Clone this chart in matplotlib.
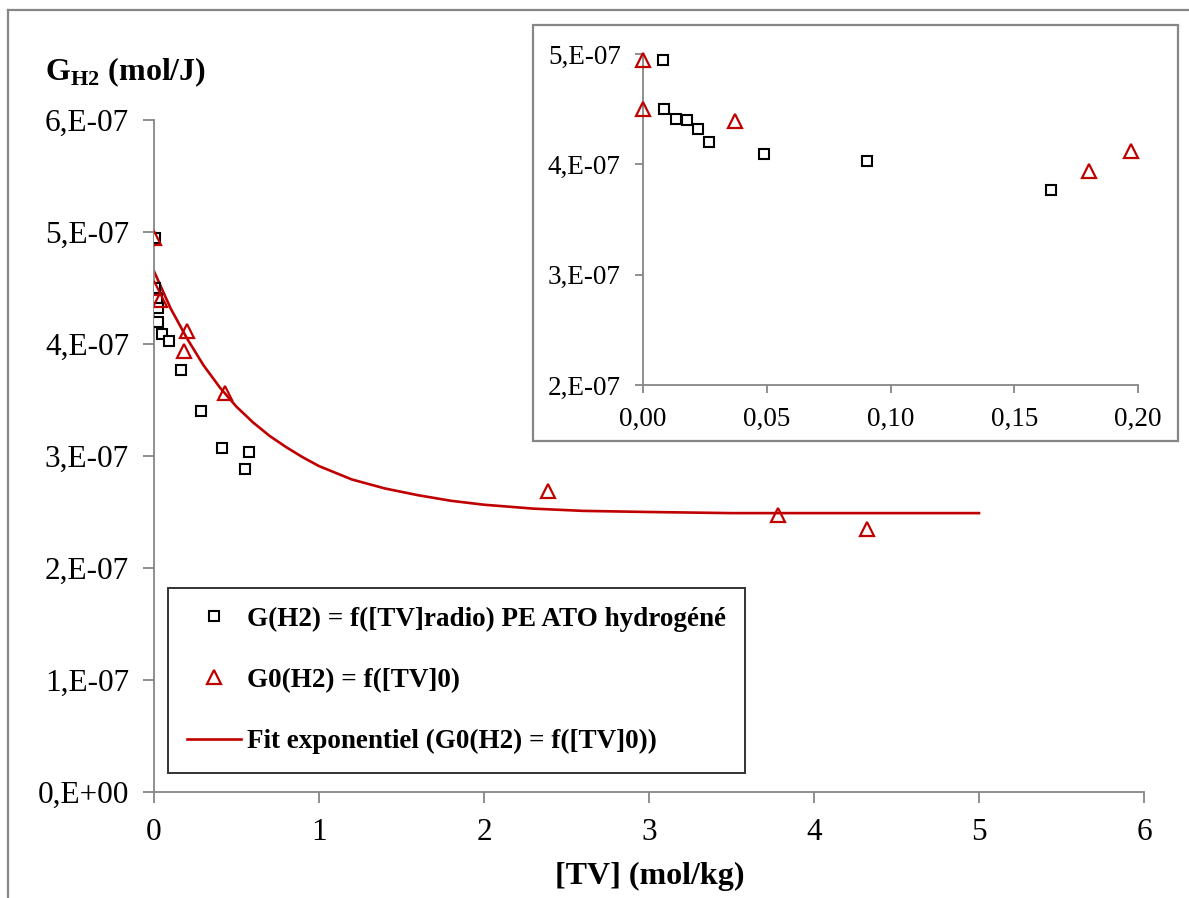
"""
G(H2) versus [TV] with an inset zoom on low [TV]
"""
import matplotlib
matplotlib.use("Agg")
import matplotlib.pyplot as plt
from matplotlib.lines import Line2D
from matplotlib.patches import Rectangle
from matplotlib.ticker import FuncFormatter, FixedLocator

# G(H2) = f([TV]radio), PE ATO hydrogene  (x in mol/kg, y in mol/J)
tv_radio = [0.0082, 0.0085, 0.0133, 0.0177, 0.0222, 0.0268, 0.0488, 0.0904,
            0.165, 0.285, 0.41, 0.552, 0.574]
g_radio = [4.95e-7, 4.50e-7, 4.41e-7, 4.40e-7, 4.32e-7, 4.20e-7, 4.09e-7,
           4.03e-7, 3.77e-7, 3.40e-7, 3.07e-7, 2.88e-7, 3.04e-7]

# G0(H2) = f([TV]0)
tv_0 = [0.0, 0.0, 0.0373, 0.180, 0.197, 0.43, 2.39, 3.78, 4.32]
g_0 = [4.95e-7, 4.50e-7, 4.39e-7, 3.94e-7, 4.12e-7, 3.56e-7, 2.69e-7,
       2.47e-7, 2.35e-7]

# exponential fit
fit_x = [0.0, 0.1, 0.2, 0.3, 0.4, 0.5, 0.6, 0.7, 0.8, 0.9, 1.0, 1.2, 1.4,
         1.6, 1.8, 2.0, 2.3, 2.6, 3.0, 3.5, 4.0, 4.5, 5.0]
fit_y = [4.65e-7, 4.32e-7, 4.05e-7, 3.81e-7, 3.61e-7, 3.44e-7, 3.30e-7,
         3.18e-7, 3.08e-7, 2.99e-7, 2.91e-7, 2.79e-7, 2.71e-7, 2.65e-7,
         2.60e-7, 2.565e-7, 2.53e-7, 2.51e-7, 2.50e-7, 2.49e-7, 2.49e-7,
         2.49e-7, 2.49e-7]

main_xticks = [0, 1, 2, 3, 4, 5, 6]
main_yticks = [0, 1e-7, 2e-7, 3e-7, 4e-7, 5e-7, 6e-7]
inset_xticks = [0.0, 0.05, 0.10, 0.15, 0.20]
inset_yticks = [2e-7, 3e-7, 4e-7, 5e-7]

RED = "#C00000"
GREY = "#868686"

plt.rcParams["font.family"] = ["Liberation Serif", "DejaVu Serif"]
plt.rcParams["mathtext.fontset"] = "custom"
plt.rcParams["mathtext.rm"] = "Liberation Serif"
plt.rcParams["mathtext.bf"] = "Liberation Serif:bold"


def sci_fmt(v, pos):
    if v == 0:
        return "0,E+00"
    return f"{v / 1e-7:.0f},E-07"


def comma_fmt(v, pos):
    return f"{v:.2f}".replace(".", ",")


def style_axes(ax, size, ticklen):
    for s in ["top", "right"]:
        ax.spines[s].set_visible(False)
    for s in ["left", "bottom"]:
        ax.spines[s].set_color(GREY)
        ax.spines[s].set_linewidth(1.3)
    ax.tick_params(direction="out", length=ticklen, width=1.3, color=GREY,
                   labelsize=size, labelcolor="black")
    ax.yaxis.set_major_formatter(FuncFormatter(sci_fmt))


W, H = 1189, 898
fig = plt.figure(figsize=(W / 100, H / 100), dpi=100)

# outer chart border (left and top edges visible)
fig.add_artist(Line2D([8 / W, 8 / W], [0, 1 - 10 / H], transform=fig.transFigure,
                      color=GREY, lw=1.6))
fig.add_artist(Line2D([8 / W, 1], [1 - 10 / H, 1 - 10 / H],
                      transform=fig.transFigure, color=GREY, lw=1.6))

# main axes
ax = fig.add_axes([154 / W, 106 / H, 990 / W, 672 / H])
ax.plot(tv_radio, g_radio, ls="none", marker="s", ms=7.5, mfc="white",
        mec="black", mew=1.5,
        label="G(H2) = f([TV]radio) PE ATO hydrogéné", zorder=3)
ax.plot(tv_0, g_0, ls="none", marker="^", ms=10.5, mfc="none", mec=RED,
        mew=1.6, label="G0(H2) = f([TV]0)", zorder=4)
ax.plot(fit_x, fit_y, color=RED, lw=1.9,
        label="Fit exponentiel (G0(H2) = f([TV]0))", zorder=2)
ax.set_xlim(0, 6)
ax.set_ylim(0, 6e-7)
ax.xaxis.set_major_locator(FixedLocator(main_xticks))
ax.yaxis.set_major_locator(FixedLocator(main_yticks))
style_axes(ax, 22.5, 8)
ax.tick_params(axis="x", pad=11)
ax.tick_params(axis="y", pad=10)
ax.set_xticklabels([str(t) for t in main_xticks])

leg = ax.legend(loc="lower left", bbox_to_anchor=(14 / 990, 19 / 672),
                frameon=True, fancybox=False, edgecolor="black",
                prop={"size": 19.5, "weight": "bold"}, labelspacing=1.33,
                handlelength=2.0, handletextpad=0.2, borderpad=0.7,
                borderaxespad=0)
leg.get_frame().set_linewidth(1.4)

fig.text(650 / W, 1 - 876 / H, "[TV] (mol/kg)", ha="center", va="center",
         fontsize=23, fontweight="bold")
fig.text(45 / W, 1 - 72 / H, r"$\mathbf{G}_{\mathbf{H2}}$ (mol/J)",
         ha="left", va="center", fontsize=23, fontweight="bold")

# inset frame
fig.add_artist(Rectangle((533 / W, 1 - 441 / H), (1178 - 533) / W,
                         (441 - 25) / H, transform=fig.transFigure,
                         facecolor="white", edgecolor=GREY, lw=1.6, zorder=5))

# inset axes
axi = fig.add_axes([643 / W, 1 - 385 / H, 495 / W, 331 / H], zorder=6)
axi.plot(tv_radio, g_radio, ls="none", marker="s", ms=7.5, mfc="white",
         mec="black", mew=1.5, clip_on=False, zorder=3)
axi.plot(tv_0, g_0, ls="none", marker="^", ms=10.5, mfc="none", mec=RED,
         mew=1.6, clip_on=False, zorder=4)
axi.set_xlim(0, 0.2)
axi.set_ylim(2e-7, 5e-7)
axi.xaxis.set_major_locator(FixedLocator(inset_xticks))
axi.yaxis.set_major_locator(FixedLocator(inset_yticks))
style_axes(axi, 19.5, 6)
axi.xaxis.set_major_formatter(FuncFormatter(comma_fmt))
axi.tick_params(axis="x", pad=10)
axi.tick_params(axis="y", pad=10)
axi.patch.set_alpha(0)

fig.savefig("out.png", dpi=100)
